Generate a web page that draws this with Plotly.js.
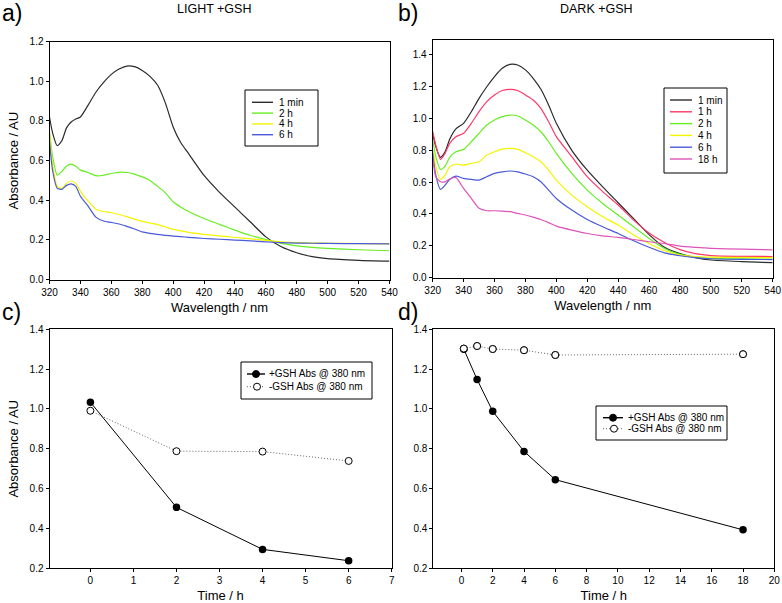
<!DOCTYPE html>
<html><head><meta charset="utf-8">
<script src="https://cdn.plot.ly/plotly-3.0.1.min.js"></script>
<style>html,body{margin:0;padding:0;background:#fff}#chart{width:782px;height:603px}</style>
</head><body><div id="chart"></div>
<script>
// ---------- DATA ----------
const wlA = [320,322,325,328,331,334,337,340,345,350,355,360,365,370,375,380,385,390,395,400,405,410,420,430,440,450,460,470,480,490,500,520,540];
const lightLabels = ["1 min","2 h","4 h","6 h"];
const light1min = [0.82,0.74,0.675,0.70,0.765,0.795,0.81,0.82,0.88,0.945,0.995,1.035,1.062,1.077,1.074,1.055,1.025,0.98,0.89,0.77,0.69,0.635,0.525,0.44,0.365,0.29,0.215,0.165,0.135,0.115,0.105,0.097,0.093];
const light2h   = [0.745,0.62,0.527,0.545,0.572,0.582,0.572,0.552,0.54,0.524,0.526,0.535,0.541,0.54,0.532,0.518,0.50,0.47,0.437,0.392,0.365,0.343,0.308,0.278,0.249,0.222,0.202,0.182,0.17,0.162,0.157,0.15,0.145];
const light4h   = [0.737,0.58,0.47,0.46,0.485,0.497,0.485,0.445,0.395,0.355,0.343,0.337,0.328,0.317,0.305,0.293,0.285,0.277,0.265,0.253,0.245,0.238,0.228,0.22,0.212,0.205,0.197,0.19,0.186,0.184,0.183,0.181,0.18];
const light6h   = [0.70,0.55,0.46,0.455,0.475,0.483,0.47,0.42,0.37,0.315,0.295,0.288,0.28,0.268,0.255,0.24,0.233,0.228,0.223,0.219,0.216,0.213,0.207,0.203,0.199,0.195,0.19,0.186,0.184,0.183,0.182,0.181,0.18];

const wlB = [320,322,325,328,331,335,340,345,350,355,360,365,370,375,380,385,390,395,400,410,420,430,440,450,460,470,480,490,500,520,540];
const darkLabels = ["1 min","1 h","2 h","4 h","6 h","18 h"];
const dark1min = [0.907,0.823,0.756,0.79,0.87,0.935,0.97,1.043,1.127,1.2,1.264,1.316,1.341,1.337,1.306,1.253,1.184,1.085,0.97,0.80,0.675,0.57,0.47,0.37,0.27,0.19,0.15,0.125,0.11,0.1,0.093];
const dark1h   = [0.917,0.833,0.743,0.781,0.844,0.886,0.907,0.97,1.043,1.106,1.148,1.176,1.184,1.176,1.148,1.117,1.064,0.98,0.886,0.76,0.634,0.54,0.456,0.361,0.28,0.22,0.175,0.15,0.138,0.133,0.132];
const dark2h   = [0.865,0.76,0.68,0.701,0.756,0.791,0.806,0.854,0.907,0.959,0.991,1.012,1.022,1.016,0.991,0.959,0.917,0.854,0.781,0.655,0.55,0.466,0.393,0.319,0.246,0.183,0.145,0.128,0.12,0.117,0.115];
const dark4h   = [0.823,0.697,0.617,0.644,0.697,0.714,0.707,0.718,0.728,0.77,0.791,0.808,0.812,0.806,0.785,0.76,0.728,0.676,0.613,0.518,0.445,0.382,0.33,0.267,0.214,0.168,0.141,0.132,0.128,0.126,0.125];
const dark6h   = [0.781,0.644,0.554,0.581,0.617,0.638,0.623,0.617,0.613,0.634,0.655,0.665,0.67,0.665,0.651,0.634,0.602,0.55,0.497,0.424,0.365,0.319,0.277,0.231,0.19,0.155,0.137,0.125,0.118,0.114,0.113];
const dark18h  = [0.76,0.634,0.602,0.602,0.62,0.628,0.56,0.497,0.435,0.42,0.42,0.418,0.414,0.403,0.393,0.38,0.365,0.345,0.323,0.298,0.277,0.262,0.252,0.239,0.225,0.214,0.197,0.189,0.183,0.178,0.174];

const timeC = [0,2,4,6];
const lightPlus  = [1.034,0.506,0.295,0.238];
const lightMinus = [0.991,0.788,0.786,0.739];
const timeD = [0.15,1,2,4,6,18];
const darkPlus  = [1.30,1.148,0.988,0.787,0.645,0.393];
const darkMinus = [1.303,1.316,1.301,1.295,1.271,1.275];
const timeLabels = ["+GSH Abs @ 380 nm","-GSH Abs @ 380 nm"];

// ---------- STYLE ----------
const W = 782, H = 603;
const fx = p => p / W, fy = p => 1 - p / H;
const FONT = "Liberation Sans, Arial, sans-serif";
const lightColors = ["#2b2b2b","#66ee22","#f4f400","#4a5ad8"];
const darkColors  = ["#2b2b2b","#ff3868","#66ee22","#f4f400","#4a5ad8","#dd55bb"];
const DOT = "1px,2px";

const traces = [];
[light1min, light2h, light4h, light6h].forEach((s, i) => traces.push({
  x: wlA, y: s, type: "scatter", mode: "lines", name: lightLabels[i],
  line: {color: lightColors[i], width: 1.2, shape: "spline", smoothing: 0.6},
  xaxis: "x", yaxis: "y", showlegend: false
}));
[dark1min, dark1h, dark2h, dark4h, dark6h, dark18h].forEach((s, i) => traces.push({
  x: wlB, y: s, type: "scatter", mode: "lines", name: darkLabels[i],
  line: {color: darkColors[i], width: 1.2, shape: "spline", smoothing: 0.6},
  xaxis: "x2", yaxis: "y2", showlegend: false
}));
function timeTraces(t, plus, minus, xa, ya) {
  traces.push({x: t, y: minus, type: "scatter", mode: "lines+markers", name: timeLabels[1],
    line: {color: "#666", width: 1, dash: DOT},
    marker: {symbol: "circle", size: 7, color: "#fff", line: {color: "#000", width: 1}},
    xaxis: xa, yaxis: ya, showlegend: false});
  traces.push({x: t, y: plus, type: "scatter", mode: "lines+markers", name: timeLabels[0],
    line: {color: "#000", width: 1},
    marker: {symbol: "circle", size: 7.5, color: "#000"},
    xaxis: xa, yaxis: ya, showlegend: false});
}
timeTraces(timeC, lightPlus, lightMinus, "x3", "y3");
timeTraces(timeD, darkPlus, darkMinus, "x4", "y4");
// redraw -GSH markers on top in d (first point overlaps)
traces.push({x: timeD, y: darkMinus, type: "scatter", mode: "markers", name: timeLabels[1],
  marker: {symbol: "circle", size: 7, color: "#fff", line: {color: "#000", width: 1}},
  xaxis: "x4", yaxis: "y4", showlegend: false, hoverinfo: "skip"});

const tickfont = {family: FONT, size: 10, color: "#000"};
function ax(extra) {
  return Object.assign({
    showline: true, linecolor: "#000", linewidth: 1, mirror: true,
    ticks: "outside", ticklen: 3, tickwidth: 1, tickcolor: "#000",
    showgrid: false, zeroline: false, tickfont: tickfont, automargin: false, fixedrange: true
  }, extra);
}
const titleFont = {family: FONT, size: 13, color: "#000"};

const layout = {
  width: W, height: H, margin: {l: 0, r: 0, t: 0, b: 0},
  paper_bgcolor: "#fff", plot_bgcolor: "#fff", showlegend: false,
  font: {family: FONT, color: "#000"},
  xaxis: ax({domain: [fx(49.5), fx(389.5)], range: [320, 540], dtick: 20, tick0: 320, anchor: "y",
    title: {text: "Wavelength / nm", font: titleFont, standoff: 6}}),
  yaxis: ax({domain: [fy(279.5), fy(41.7)], range: [0, 1.2], dtick: 0.2, tickformat: ".1f", anchor: "x",
    zeroline: true, zerolinecolor: "#2f3f9a", zerolinewidth: 1.5,
    title: {text: "Absorbance / AU", font: titleFont, standoff: 8}}),
  xaxis2: ax({domain: [fx(432.7), fx(772.7)], range: [320, 540], dtick: 20, tick0: 320, anchor: "y2",
    title: {text: "Wavelength / nm", font: titleFont, standoff: 6}}),
  yaxis2: ax({domain: [fy(277.5), fy(40)], range: [0, 1.494], dtick: 0.2, tickformat: ".1f", anchor: "x2",
    zeroline: true, zerolinecolor: "#2f3f9a", zerolinewidth: 1.5}),
  xaxis3: ax({domain: [fx(49.5), fx(391.7)], range: [-0.95, 7.0], dtick: 1, tick0: 0, anchor: "y3",
    title: {text: "Time / h", font: titleFont, standoff: 6}}),
  yaxis3: ax({domain: [fy(568.3), fy(329.3)], range: [0.2, 1.4], dtick: 0.2, tickformat: ".1f", anchor: "x3",
    title: {text: "Absorbance / AU", font: titleFont, standoff: 8}}),
  xaxis4: ax({domain: [fx(433.3), fx(774.3)], range: [-1.8, 20], dtick: 2, tick0: 0, anchor: "y4",
    title: {text: "Time / h", font: titleFont, standoff: 6}}),
  yaxis4: ax({domain: [fy(568.3), fy(329.3)], range: [0.2, 1.4], dtick: 0.2, tickformat: ".1f", anchor: "x4"}),
  shapes: [], annotations: []
};

// panel labels and titles
const A = layout.annotations, S = layout.shapes;
function txt(t, x, y, size, anchor) {
  A.push({text: t, x: fx(x), y: fy(y), xref: "paper", yref: "paper", showarrow: false,
    xanchor: anchor || "center", yanchor: "middle", font: {family: FONT, size: size, color: "#000"}});
}
txt("a)", 0, 13, 23, "left");
txt("b)", 396, 13, 23, "left");
txt("c)", 0, 312, 23, "left");
txt("d)", 396, 312, 23, "left");
txt("LIGHT +GSH", 214.5, 9, 12.5);
txt("DARK +GSH", 596.5, 9, 12.5);

// manual legends
function box(x0, y0, x1, y1) {
  S.push({type: "rect", xref: "paper", yref: "paper", x0: fx(x0), x1: fx(x1), y0: fy(y1), y1: fy(y0),
    line: {color: "#000", width: 1}, fillcolor: "#fff", layer: "above"});
}
function sample(x0, x1, y, color, dash) {
  S.push({type: "line", xref: "paper", yref: "paper", x0: fx(x0), x1: fx(x1), y0: fy(y), y1: fy(y),
    line: {color: color, width: dash ? 1 : 1.4, dash: dash || "solid"}, layer: "above"});
}
function dot(x, y, fill) {
  S.push({type: "circle", xref: "paper", yref: "paper", xsizemode: "pixel", ysizemode: "pixel",
    xanchor: fx(x), yanchor: fy(y), x0: -3.5, x1: 3.5, y0: -3.5, y1: 3.5,
    line: {color: "#000", width: 1}, fillcolor: fill, layer: "above"});
}
box(245, 90, 318, 146);
lightLabels.forEach((l, i) => { const y = 102.3 + i * 10.8; sample(252, 273, y, lightColors[i]); txt(l, 277, y, 10, "left"); });
box(664, 88, 727, 173);
darkLabels.forEach((l, i) => { const y = 100 + i * 11.8; sample(670, 692, y, darkColors[i]); txt(l, 696, y, 10, "left"); });
// c legend
box(241, 362, 372, 399);
sample(247, 265, 374, "#000"); dot(256, 374, "#000"); txt(timeLabels[0], 267, 374, 10, "left");
sample(247, 265, 386.7, "#666", DOT); dot(257, 386.7, "#fff"); txt(timeLabels[1], 267, 386.7, 10, "left");
// d legend
box(596, 406, 727, 440);
sample(603, 623, 417.7, "#000"); dot(613, 417.7, "#000"); txt(timeLabels[0], 626, 417.7, 10, "left");
sample(603, 623, 428.7, "#666", DOT); dot(614, 428.7, "#fff"); txt(timeLabels[1], 626, 428.7, 10, "left");

Plotly.newPlot("chart", traces, layout, {staticPlot: true, displayModeBar: false});
</script></body></html>
